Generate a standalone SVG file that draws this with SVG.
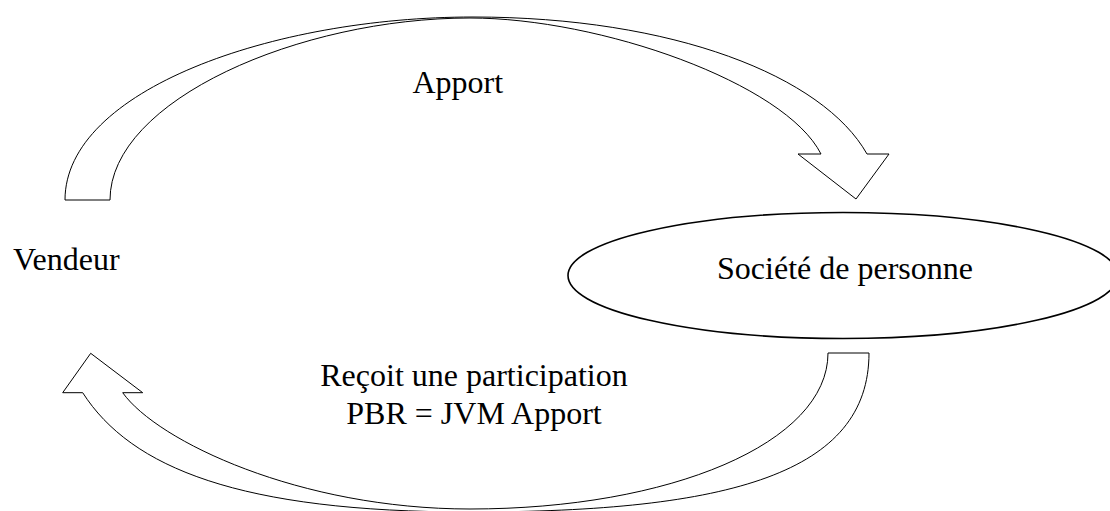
<svg xmlns="http://www.w3.org/2000/svg" width="1110" height="511" viewBox="0 0 1110 511">
  <style>
    .arrow { fill: #ffffff; stroke: #000000; stroke-width: 1; stroke-linejoin: miter; }
    .node { fill: #ffffff; stroke: #000000; stroke-width: 1.6; }
    .lbl { font-family: "Liberation Serif", "Times New Roman", serif; font-size: 32px; fill: #000000; }
  </style>
  <rect x="0" y="0" width="1110" height="511" fill="#ffffff"/>
  <g id="connectors">
    <g id="arrow-apport">
      <path class="arrow" d="M 65,200 C 65,90 273,17 473,17 C 673,17 823,76 867,154 L 889,154 L 856,199 L 798,154 L 821,154 C 785,83 600,18 470,18 C 300,18 110,100 110,200 Z"/>
    </g>
    <g id="arrow-participation">
      <path class="arrow" d="M 869,353 C 869,473 730,512 470,512 C 240,512 131,468 82.7,392.7 L 62.7,392.7 L 90.7,353.3 L 142.7,392.7 L 122.7,392.7 C 157.5,441.3 300,509 470,509 C 670,509 828,443 828,353 Z"/>
    </g>
    <text class="lbl" x="412.5" y="93">Apport</text>
    <text class="lbl" x="474" y="386" text-anchor="middle">Reçoit une participation</text>
    <text class="lbl" x="474" y="424" text-anchor="middle">PBR = JVM Apport</text>
  </g>
  <g id="vendeur">
    <text class="lbl" x="13" y="269.5">Vendeur</text>
  </g>
  <g id="societe">
    <ellipse class="node" cx="843" cy="275.5" rx="275" ry="63"/>
    <text class="lbl" x="845" y="279" text-anchor="middle">Société de personne</text>
  </g>
</svg>
